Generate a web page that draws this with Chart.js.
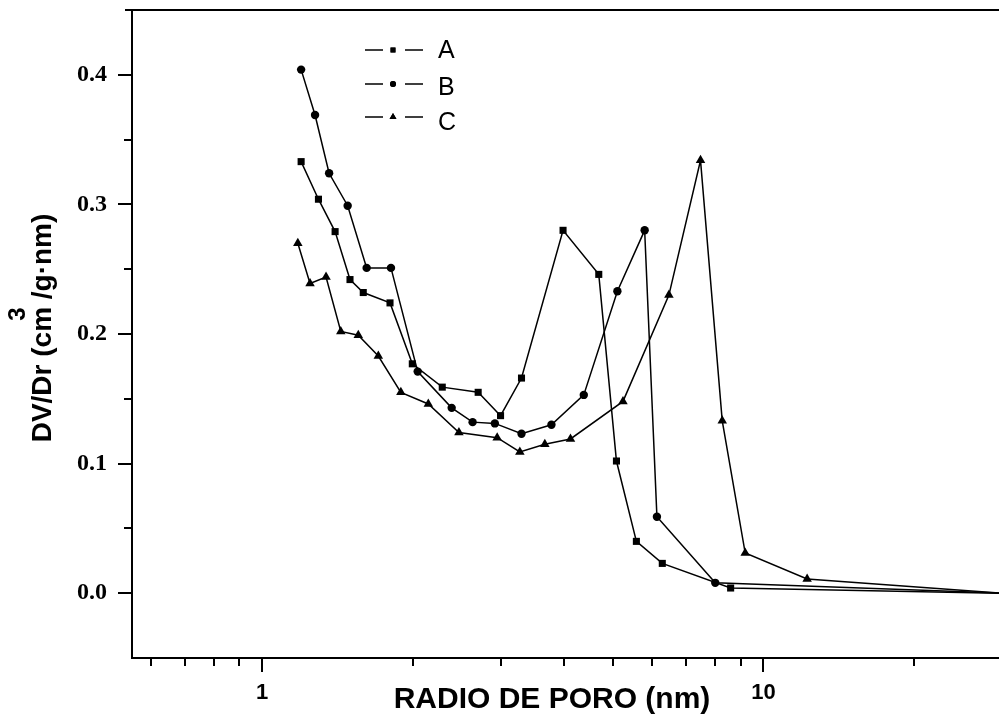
<!DOCTYPE html>
<html>
<head>
<meta charset="utf-8">
<script src="https://cdn.jsdelivr.net/npm/chart.js@4/dist/chart.umd.min.js"></script>
<style>
  html, body { margin: 0; padding: 0; background: #fff; overflow: hidden; }
  #wrap { width: 999px; height: 717px; }
</style>
</head>
<body>
<div id="wrap"><canvas id="c" width="999" height="717"></canvas></div>
<script>
// Pore radius (nm) and DV/Dr (cm3/g·nm) for the three samples
const radioA = [1.196, 1.295, 1.398, 1.497, 1.591, 1.799, 1.993, 2.287, 2.697, 2.989, 3.291, 3.983, 4.693, 5.09, 5.578, 6.283, 8.6, 30];
const dvA    = [0.333, 0.304, 0.279, 0.242, 0.232, 0.224, 0.177, 0.159, 0.155, 0.137, 0.166, 0.280, 0.246, 0.102, 0.040, 0.023, 0.004, 0.0];

const radioB = [1.196, 1.275, 1.36, 1.481, 1.616, 1.807, 2.043, 2.388, 2.629, 2.912, 3.291, 3.776, 4.381, 5.112, 5.794, 6.13, 8.013, 30];
const dvB    = [0.404, 0.369, 0.324, 0.299, 0.251, 0.251, 0.171, 0.143, 0.132, 0.131, 0.123, 0.130, 0.153, 0.233, 0.280, 0.059, 0.008, 0.0];

const radioC = [1.178, 1.246, 1.341, 1.435, 1.555, 1.705, 1.891, 2.145, 2.469, 2.943, 3.266, 3.663, 4.121, 5.245, 6.477, 7.489, 8.275, 9.195, 12.22, 30];
const dvC    = [0.270, 0.239, 0.244, 0.202, 0.199, 0.183, 0.155, 0.146, 0.124, 0.120, 0.109, 0.115, 0.119, 0.148, 0.230, 0.334, 0.133, 0.031, 0.011, 0.0];

const seriesNames = ['A', 'B', 'C'];

// Axis ticks
const xTickValues = [0.6, 0.7, 0.8, 0.9, 1, 2, 3, 4, 5, 6, 7, 8, 9, 10, 20];
const xTickLabels = { 1: '1', 10: '10' };
const yMajorLabels = ['0.0', '0.1', '0.2', '0.3', '0.4'];

const SANS = '"Liberation Sans", Arial, sans-serif';
const SERIF = '"Liberation Serif", "Times New Roman", serif';

function toPoints(xs, ys) { return xs.map((x, i) => ({ x: x, y: ys[i] })); }

const styles = [
  { pointStyle: 'rect', radius: 5 },
  { pointStyle: 'circle', radius: 4.2 },
  { pointStyle: 'triangle', radius: 5.5 }
];
const raw = [[radioA, dvA], [radioB, dvB], [radioC, dvC]];

const datasets = raw.map((r, k) => {
  const pts = toPoints(r[0], r[1]);
  return {
    label: seriesNames[k],
    data: pts,
    borderColor: '#000',
    backgroundColor: '#000',
    borderWidth: 1.5,
    pointStyle: styles[k].pointStyle,
    pointRadius: ctx => (ctx.dataIndex === pts.length - 1 ? 0 : styles[k].radius),
    pointBorderWidth: 0,
    pointHoverRadius: 0,
    tension: 0
  };
});

function yLabel(v) {
  for (const s of yMajorLabels) { if (Math.abs(v - parseFloat(s)) < 1e-6) return s; }
  return '';
}

// Tick marks, frame line, axis titles and the legend
const decor = {
  id: 'decor',
  afterDraw(chart) {
    const ctx = chart.ctx;
    const { left, right, top, bottom } = chart.chartArea;
    const xs = chart.scales.x, ys = chart.scales.y;
    ctx.save();
    ctx.strokeStyle = '#000';
    ctx.fillStyle = '#000';
    ctx.lineWidth = 2;

    ctx.beginPath(); ctx.moveTo(left - 7, top); ctx.lineTo(right, top); ctx.stroke();

    ys.ticks.forEach(t => {
      const v = t.value;
      if (v <= ys.min + 1e-9 || v >= ys.max - 1e-9) return;
      const p = Math.round(ys.getPixelForValue(v));
      const len = yLabel(v) ? 14 : 8;
      ctx.beginPath(); ctx.moveTo(left - len, p); ctx.lineTo(left, p); ctx.stroke();
    });
    xs.ticks.forEach(t => {
      const v = t.value;
      const p = Math.round(xs.getPixelForValue(v));
      const len = xTickLabels[v] ? 14 : 8;
      ctx.beginPath(); ctx.moveTo(p, bottom); ctx.lineTo(p, bottom + len); ctx.stroke();
    });

    // x title
    ctx.font = 'bold 30px ' + SANS;
    ctx.textAlign = 'center';
    ctx.textBaseline = 'middle';
    ctx.fillText('RADIO DE PORO (nm)', 552, 700);

    // y title with raised exponent
    ctx.save();
    ctx.translate(43, 328);
    ctx.rotate(-Math.PI / 2);
    ctx.font = 'bold 28px ' + SANS;
    ctx.textAlign = 'left';
    const s1 = 'DV/Dr (cm', s2 = ' /g\u00B7nm)';
    const w1 = ctx.measureText(s1).width, w2 = ctx.measureText(s2).width;
    const start = -(w1 + w2) / 2;
    ctx.fillText(s1, start, 0);
    ctx.fillText(s2, start + w1, 0);
    ctx.font = 'bold 24px ' + SANS;
    ctx.textAlign = 'center';
    ctx.fillText('3', start + w1 - 7, -25);
    ctx.restore();

    // legend
    const lineY = [50, 84, 117];
    const textY = [51, 88, 123];
    const legendR = [3.5, 3, 4];
    chart.data.datasets.forEach((ds, k) => {
      ctx.lineWidth = 1.5;
      ctx.beginPath();
      ctx.moveTo(365, lineY[k]); ctx.lineTo(383, lineY[k]);
      ctx.moveTo(405, lineY[k]); ctx.lineTo(423, lineY[k]);
      ctx.stroke();
      Chart.helpers.drawPoint(ctx, { pointStyle: ds.pointStyle, radius: legendR[k], borderWidth: 0 }, 393, lineY[k]);
      ctx.fill();
      ctx.font = '25px ' + SANS;
      ctx.textAlign = 'left';
      ctx.textBaseline = 'middle';
      ctx.fillText(ds.label, 438, textY[k]);
    });
    ctx.restore();
  }
};

new Chart(document.getElementById('c'), {
  type: 'line',
  data: { datasets: datasets },
  plugins: [decor],
  options: {
    responsive: false,
    animation: false,
    events: [],
    layout: { autoPadding: false, padding: { top: 10, right: 0, left: 0, bottom: 0 } },
    plugins: { legend: { display: false }, tooltip: { enabled: false } },
    scales: {
      x: {
        type: 'logarithmic',
        min: 0.55,
        max: 29.5,
        afterBuildTicks: s => { s.ticks = xTickValues.map(v => ({ value: v })); },
        afterFit: s => { s.height = 59; s.paddingLeft = 0; s.paddingRight = 0; },
        grid: { display: false, drawTicks: false },
        border: { display: true, color: '#000', width: 2 },
        ticks: {
          autoSkip: false,
          maxRotation: 0,
          padding: 22,
          color: '#000',
          font: { family: SANS, size: 22, weight: 'bold' },
          callback: v => xTickLabels[v] || ''
        }
      },
      y: {
        type: 'linear',
        min: -0.05,
        max: 0.45,
        afterFit: s => { s.width = 132; s.paddingTop = 0; s.paddingBottom = 0; },
        grid: { display: false, drawTicks: false },
        border: { display: true, color: '#000', width: 2 },
        ticks: {
          stepSize: 0.05,
          autoSkip: false,
          padding: 25,
          color: '#000',
          font: { family: SERIF, size: 24, weight: 'bold' },
          callback: v => yLabel(v)
        }
      }
    }
  }
});
</script>
</body>
</html>
